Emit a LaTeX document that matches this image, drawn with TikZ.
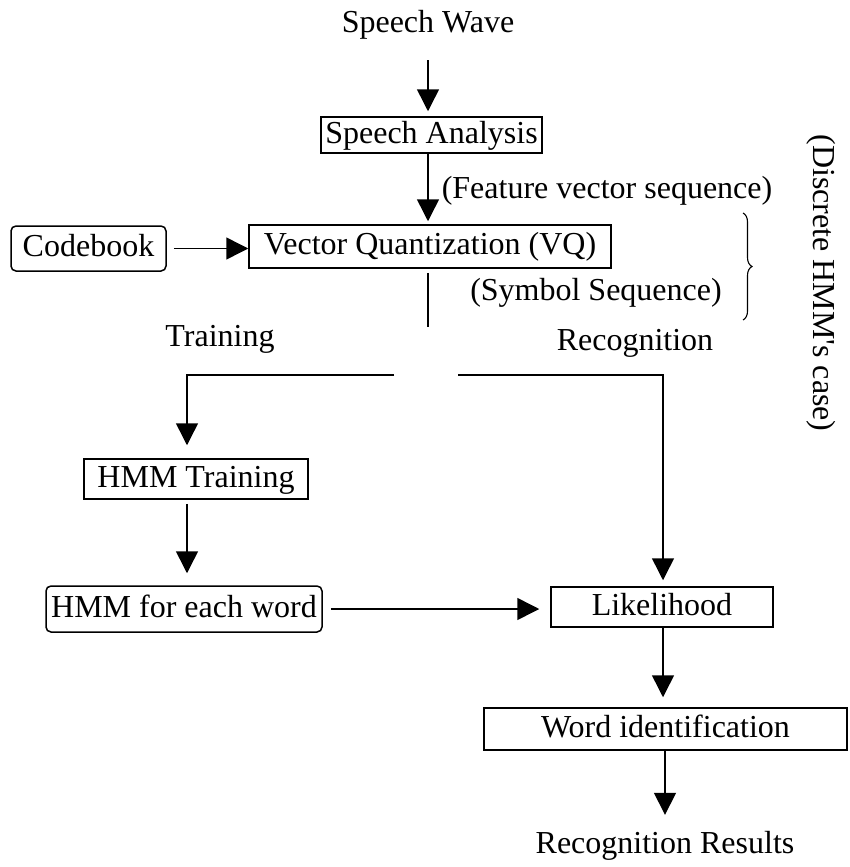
\documentclass[tikz,border=0pt]{standalone}
\usepackage{fontspec}
\setmainfont{Liberation Serif}
\usetikzlibrary{arrows.meta,decorations.pathreplacing}
\begin{document}
\begin{tikzpicture}[x=1pt,y=-1pt,
  every node/.style={font=\fontsize{32}{36}\selectfont, inner sep=0pt, text height=22pt, text depth=6pt},
  box/.style={draw, line width=1.5pt},
  rbox/.style={draw, line width=1.5pt, rounded corners=5pt},
  arr/.style={line width=1.5pt, -{Triangle[length=22pt,width=22pt]}},
  ln/.style={line width=1.5pt}]
\useasboundingbox (0,0) rectangle (850,867);

% nodes
\node (wave) at (428,25) {Speech Wave};
\node[box, minimum width=221, minimum height=36] (sa) at (431.5,135) {Speech Analysis};
\node (feat) at (607,190) {(Feature vector sequence)};
\node[box, minimum width=362, minimum height=43] (vq) at (430,246.5) {Vector Quantization (VQ)};
\node[rbox, minimum width=155, minimum height=45] (cb) at (88.5,248.5) {Codebook};
\node (sym) at (596,292) {(Symbol Sequence)};
\node[rotate=-90] (disc) at (821,283) {(Discrete HMM\textquotesingle s case)};
\node (train) at (220,338) {Training};
\node (recog) at (635,342) {Recognition};
\node[box, minimum width=224, minimum height=40] (ht) at (196,479) {HMM Training};
\node[rbox, minimum width=276, minimum height=46] (hw) at (184,609) {HMM for each word};
\node[box, minimum width=222, minimum height=40] (lk) at (662,607) {Likelihood};
\node[box, minimum width=363, minimum height=42] (wi) at (665.5,729) {Word identification};
\node (rr) at (665,845) {Recognition Results};

% helper coordinates
\coordinate (mx) at (428,0);
\coordinate (split) at (428,327);
\coordinate (lstart) at (394,375);
\coordinate (lcorner) at (187,375);
\coordinate (rstart) at (458,375);
\coordinate (rcorner) at (663,375);
\coordinate (br1) at (743,213);
\coordinate (br2) at (743,320);

% connectors
\draw[arr, shorten <=21pt, shorten >=5pt] (wave.south -| mx) -- (sa.north -| mx);
\draw[arr, shorten >=3pt] (sa.south -| mx) -- (vq.north -| mx);
\draw[arr, shorten <=7pt] (cb.east) -- (cb.east -| vq.west);
\draw[ln, shorten <=4pt] (vq.south -| mx) -- (split);
\draw[arr, shorten >=13pt] (lstart) -- (lcorner) -- (ht.north -| lcorner);
\draw[arr, shorten >=6pt] (rstart) -- (rcorner) -- (lk.north -| rcorner);
\draw[arr, shorten <=4pt, shorten >=12pt] (ht.south -| lcorner) -- (hw.north -| lcorner);
\draw[arr, shorten <=8pt, shorten >=11pt] (hw.east) -- (hw.east -| lk.west);
\draw[arr, shorten >=10pt] (lk.south -| rcorner) -- (wi.north -| rcorner);
\draw[arr, shorten >=16pt] (wi.south -| rr.north) -- (rr.north);

% brace
\draw[line width=1.1pt, decorate, decoration={brace, amplitude=9pt}] (br1) -- (br2);
\end{tikzpicture}
\end{document}
